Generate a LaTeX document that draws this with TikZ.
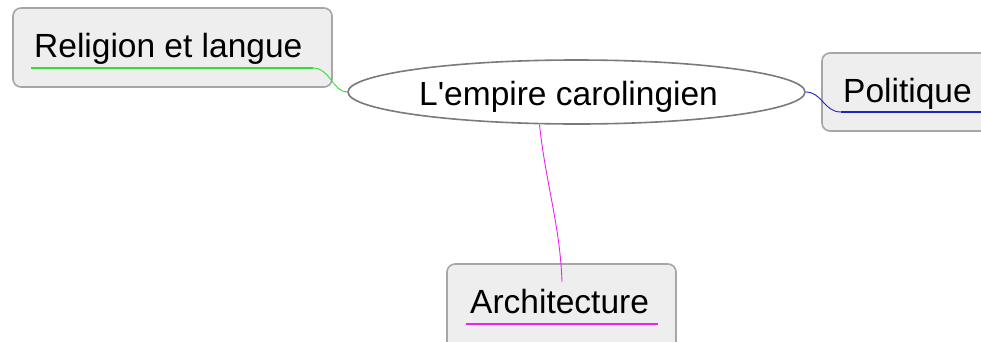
\documentclass[tikz,border=0pt]{standalone}
\usepackage{fontspec}
\setmainfont{Liberation Sans}
\usetikzlibrary{shapes.geometric}
\definecolor{boxfill}{HTML}{EEEEEE}
\definecolor{boxline}{HTML}{A6A6A6}
\definecolor{ellline}{HTML}{7A7A7A}
\definecolor{cgreen}{HTML}{33DD33}
\definecolor{cblue}{HTML}{2222CC}
\definecolor{cmag}{HTML}{EE22EE}
\begin{document}
\begin{tikzpicture}[x=1pt,y=-1pt,
  topicbox/.style={draw=boxline,fill=boxfill,line width=1.6pt,rounded corners=8pt},
  lbl/.style={anchor=base west,inner sep=0pt,font=\fontsize{33.5}{40}\selectfont},
  under/.style={line width=2pt},
  conn/.style={line width=0.9pt}]
\useasboundingbox (0,0) rectangle (981,341);
\fill[white] (0,0) rectangle (981,341);
% boxes
\draw[topicbox] (13,8) rectangle (332,87);
\draw[topicbox] (822,53) rectangle (1000,131);
\draw[topicbox] (447,264) rectangle (676,360);
% central ellipse
\node[ellipse,draw=ellline,fill=white,line width=1.6pt,minimum width=457pt,minimum height=64pt,inner sep=0pt] (center) at (576.5,92) {};
\node[lbl] (tcenter) at (419,105) {L\textquotesingle empire carolingien};
% labels
\node[lbl] (trel) at (34,57) {Religion et langue};
\node[lbl] (tpol) at (843,102) {Politique};
\node[lbl] (tarch) at (470,313) {Architecture};
% underlines
\coordinate (relA) at (31,68);
\coordinate (relB) at (313,68);
\coordinate (polA) at (841,112);
\coordinate (polB) at (981,112);
\coordinate (archA) at (466,324);
\coordinate (archB) at (658,324);
\coordinate (archC) at (562,282);
\draw[cgreen,under] (relA) -- (relB);
\draw[cblue,under] (polA) -- (polB);
\draw[cmag,under] (archA) -- (archB);
% connectors
\draw[cgreen,conn] (relB) .. controls (330,68) and (333,92) .. (center.west);
\draw[cblue,conn] (center.east) .. controls (822,92) and (824,112) .. (polA);
\draw[cmag,conn] (center.south) ++(-37,0) coordinate (cs) .. controls (546,185) and (560,225) .. (archC);
\end{tikzpicture}
\end{document}
